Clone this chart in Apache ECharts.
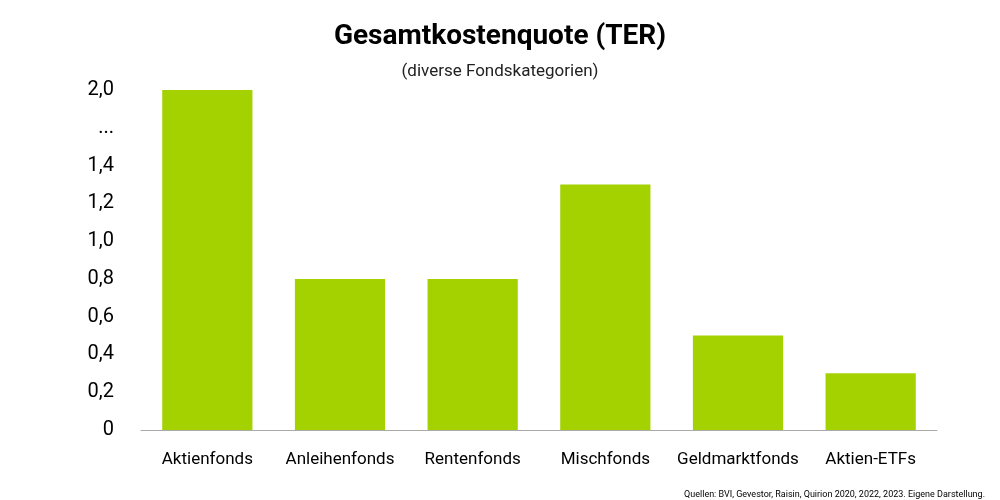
<!DOCTYPE html>
<html>
<head>
<meta charset="utf-8">
<script src="https://cdn.jsdelivr.net/npm/echarts@6/dist/echarts.min.js"></script>
<style>html,body{margin:0;background:#fff}#main{width:1000px;height:500px}</style>
</head>
<body>
<div id="main"></div>
<script>
var categories = ['Aktienfonds', 'Anleihenfonds', 'Rentenfonds', 'Mischfonds', 'Geldmarktfonds', 'Aktien-ETFs'];
var terValues = [2.0, 0.8, 0.8, 1.3, 0.5, 0.3];
// broken axis: the top tick stands for 2,0, the one below is "..."
var axisMax = 1.8;

var myChart = echarts.init(document.getElementById('main'));
myChart.setOption({
    backgroundColor: '#fff',
    textStyle: { fontFamily: 'Roboto' },
    title: [
        { text: 'Gesamtkostenquote (TER)', left: 'center', top: 18,
          textStyle: { fontSize: 28, fontWeight: 'bold', color: '#000' } },
        { text: '(diverse Fondskategorien)', left: 'center', top: 58,
          textStyle: { fontSize: 17, fontWeight: 'normal', color: '#222' } },
        { text: 'Quellen: BVI, Gevestor, Raisin, Quirion 2020, 2022, 2023. Eigene Darstellung.',
          right: 10, top: 485, textStyle: { fontSize: 9, fontWeight: 'normal', color: '#000' } }
    ],
    grid: { left: 141, right: 63, top: 90, bottom: 70 },
    xAxis: {
        type: 'category',
        data: categories,
        offset: 7,
        axisLine: { lineStyle: { color: '#aaa' } },
        axisTick: { show: false },
        axisLabel: { fontSize: 17, color: '#000', margin: 14, interval: 0 }
    },
    yAxis: {
        type: 'value',
        min: 0,
        max: axisMax,
        interval: 0.2,
        splitLine: { show: false },
        axisLine: { show: false },
        axisTick: { show: false },
        axisLabel: {
            fontSize: 20, color: '#000', margin: 27,
            formatter: function (v) {
                if (Math.abs(v) < 1e-6) return '0';
                if (Math.abs(v - 1.6) < 1e-6) return '...';
                if (Math.abs(v - 1.8) < 1e-6) return '2,0';
                return v.toFixed(1).replace('.', ',');
            }
        }
    },
    series: [{
        type: 'bar',
        data: terValues.map(function (v) { return Math.min(v, axisMax); }),
        barCategoryGap: '32%',
        itemStyle: { color: '#a3d200' }
    }]
});
</script>
</body>
</html>
